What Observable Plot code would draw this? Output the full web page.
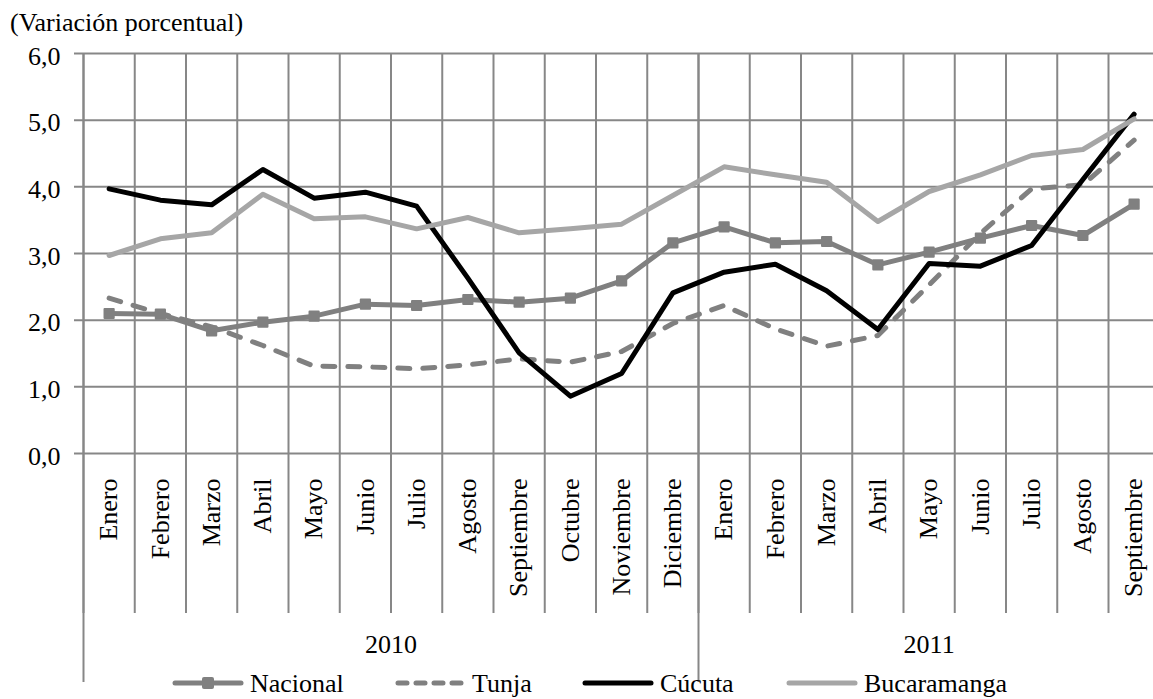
<!DOCTYPE html>
<html><head><meta charset="utf-8">
<script src="https://cdn.jsdelivr.net/npm/d3@7"></script>
<script src="https://cdn.jsdelivr.net/npm/@observablehq/plot@0.6"></script>
<style>
html,body{margin:0;padding:0;background:#fff;overflow:hidden;}
#wrap{position:relative;width:1153px;height:699px;font-family:"Liberation Serif","Times New Roman",serif;color:#000;}
#title{position:absolute;left:10px;top:10px;font-size:26px;line-height:26px;white-space:nowrap;}
.legsw{position:absolute;top:673px;}
.legtx{position:absolute;top:671px;font-size:26px;line-height:26px;white-space:nowrap;}
#chart{position:absolute;left:0;top:0;}
</style>
</head><body>
<div id="wrap">
  <div id="chart"></div>
  <div id="title">(Variación porcentual)</div>
</div>
<script>
// ---- data ----
const months = ["Enero","Febrero","Marzo","Abril","Mayo","Junio","Julio","Agosto","Septiembre","Octubre","Noviembre","Diciembre",
                "Enero","Febrero","Marzo","Abril","Mayo","Junio","Julio","Agosto","Septiembre"];
const years = ["2010","2011"];
const yearCounts = [12, 9];
const seriesNames = ["Nacional","Tunja","Cúcuta","Bucaramanga"];
const nacional    = [2.10,2.09,1.84,1.97,2.06,2.24,2.22,2.31,2.27,2.33,2.59,3.16,3.40,3.16,3.18,2.83,3.02,3.23,3.42,3.27,3.74];
const tunja       = [2.33,2.10,1.90,1.62,1.31,1.30,1.27,1.33,1.42,1.37,1.53,1.95,2.22,1.87,1.61,1.77,2.53,3.30,3.97,4.03,4.70];
const cucuta      = [3.97,3.80,3.73,4.26,3.83,3.92,3.71,2.63,1.51,0.86,1.20,2.41,2.72,2.84,2.44,1.86,2.85,2.81,3.12,4.11,5.09];
const bucaramanga = [2.97,3.22,3.31,3.89,3.52,3.55,3.37,3.54,3.31,3.37,3.44,3.87,4.30,4.18,4.07,3.48,3.93,4.18,4.47,4.56,5.02];
const yTicks = [0,1,2,3,4,5,6];

// ---- styles ----
const gridColor = "#878787";
const styles = {
  "Nacional":    {stroke:"#808080", dash:null, marker:true},
  "Tunja":       {stroke:"#808080", dash:"12,13", marker:false},
  "Cúcuta":      {stroke:"#000000", dash:null, marker:false},
  "Bucaramanga": {stroke:"#a6a6a6", dash:null, marker:false}
};
const valuesBy = {"Nacional":nacional,"Tunja":tunja,"Cúcuta":cucuta,"Bucaramanga":bucaramanga};

const n = months.length;
const rows = name => valuesBy[name].map((v,i) => ({pos: i + 0.5, value: v, series: name}));
const bounds = d3.range(n + 1);
const yearBounds = [0, ...d3.cumsum(yearCounts)];
const yearMids = yearCounts.map((c,i) => yearBounds[i] + c/2);

const W = 1153, H = 699;
const lineMarks = [];
for (const name of seriesNames) {
  const s = styles[name];
  lineMarks.push(Plot.line(rows(name), {x:"pos", y:"value", stroke:s.stroke, strokeWidth:5,
    strokeLinejoin:"round", strokeLinecap:"round", strokeDasharray: s.dash || undefined}));
  if (s.marker) lineMarks.push(Plot.dot(rows(name), {x:"pos", y:"value", symbol:"square", r:5.2,
    fill:s.stroke, stroke:s.stroke, strokeWidth:2, strokeLinejoin:"round"}));
}

const chart = Plot.plot({
  width: W, height: H,
  marginTop: 53, marginBottom: 246, marginLeft: 83, marginRight: 0,
  style: {fontFamily: '"Liberation Serif","Times New Roman",serif', fontSize: "26px", color: "#000", background: "transparent", overflow: "hidden"},
  x: {type: "linear", domain: [0, n], range: [83, 83 + n * 51.25], axis: null},
  y: {domain: [0, 6], axis: null},
  marks: [
    Plot.ruleY(yTicks, {stroke: gridColor, strokeWidth: 2, insetLeft: -9, strokeOpacity: 1}),
    Plot.ruleX(bounds, {stroke: gridColor, strokeWidth: 2, insetBottom: -160}),
    Plot.ruleX(yearBounds, {stroke: gridColor, strokeWidth: 2, insetBottom: -229}),
    Plot.axisY(yTicks, {anchor: "left", tickSize: 0, tickPadding: 23, fontSize: 26, dy: 3, label: null,
      tickFormat: d => d.toFixed(1).replace(".", ",")}),
    Plot.axisX(d3.range(n).map(i => i + 0.5), {anchor: "bottom", tickSize: 0, tickPadding: 25, tickRotate: -90,
      fontSize: 26, label: null, tickFormat: d => months[Math.floor(d)]}),
    Plot.text(years, {x: (d,i) => yearMids[i], frameAnchor: "bottom", dy: 199, fontSize: 26, fill: "#000"}),
    ...lineMarks
  ]
});
document.getElementById("chart").appendChild(chart);

// ---- legend ----
const wrap = document.getElementById("wrap");
const legSwatchX = [173, 395, 583, 787];
seriesNames.forEach((name, i) => {
  const s = styles[name];
  const sw = d3.create("svg").attr("class","legsw").attr("width",72).attr("height",20)
    .style("left", (legSwatchX[i]-1) + "px");
  sw.append("line").attr("x1", s.dash ? 4 : 3).attr("x2", 69).attr("y1",10).attr("y2",10)
    .attr("stroke", s.stroke).attr("stroke-width",5).attr("stroke-linecap","round")
    .attr("stroke-dasharray", s.dash ? "9,9" : null);
  if (s.marker) sw.append("rect").attr("x",30).attr("y",4).attr("width",12).attr("height",12)
    .attr("rx",2).attr("fill", s.stroke);
  wrap.appendChild(sw.node());
  const tx = document.createElement("div");
  tx.className = "legtx";
  tx.style.left = (legSwatchX[i] + 77) + "px";
  tx.textContent = name;
  wrap.appendChild(tx);
});
</script>
</body></html>
